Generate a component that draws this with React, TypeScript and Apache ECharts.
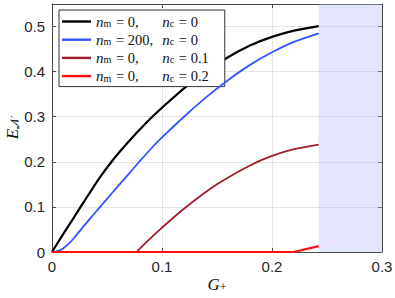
import React, { useEffect, useRef } from "react";
import * as echarts from "echarts";

// ---- data ----
const blackG = [0, 0.01, 0.02, 0.026, 0.035, 0.044, 0.055, 0.065, 0.0712, 0.08, 0.09, 0.1, 0.12, 0.14, 0.16, 0.18, 0.2, 0.22, 0.2424];
const blackE = [0, 0.039, 0.077, 0.1, 0.134, 0.167, 0.203, 0.232, 0.249, 0.272, 0.297, 0.32, 0.363, 0.4, 0.432, 0.458, 0.477, 0.491, 0.501];

const blueG = [0, 0.005, 0.01, 0.015, 0.02, 0.027, 0.035, 0.043, 0.05, 0.06, 0.07, 0.08, 0.09, 0.1, 0.12, 0.14, 0.16, 0.18, 0.2, 0.22, 0.2424];
const blueE = [0, 0.002, 0.008, 0.018, 0.031, 0.052, 0.075, 0.098, 0.118, 0.146, 0.174, 0.202, 0.229, 0.254, 0.3, 0.343, 0.381, 0.415, 0.443, 0.466, 0.485];

const darkRedG = [0, 0.0765, 0.08, 0.0894, 0.1, 0.12, 0.15, 0.18, 0.2, 0.22, 0.2424];
const darkRedE = [0, 0, 0.008, 0.03, 0.054, 0.096, 0.15, 0.192, 0.213, 0.228, 0.238];

const redG = [0, 0.1, 0.2197, 0.2424];
const redE = [0, 0, 0, 0.013];

const seriesNames = ["nm=0,nc=0", "nm=200,nc=0", "nm=0,nc=0.1", "nm=0,nc=0.2"];
const nmValues = ["0", "200", "0", "0"];
const ncValues = ["0", "0", "0.1", "0.2"];

const shadedFrom = 0.2424;
const shadedTo = 0.3;

const xTicks = { min: 0, max: 0.3, interval: 0.1 };
const yTicks = { min: 0, max: 0.55, interval: 0.1 };

const pairs = (g: number[], e: number[]) => g.map((v, i) => [v, e[i]]);

const serif = "'Liberation Serif', 'DejaVu Serif', serif";
const sans = "'Liberation Sans', Arial, sans-serif";

export default function App() {
  const ref = useRef<HTMLDivElement>(null);
  useEffect(() => {
    if (!ref.current) return;
    const chart = echarts.init(ref.current, undefined, { renderer: "svg" });
    const frame = "#4a4a4a";
    const gridColor = "#e3e3e3";
    const baseX = { type: "value", min: xTicks.min, max: xTicks.max, interval: xTicks.interval };
    const baseY = { type: "value", min: yTicks.min, max: yTicks.max, interval: yTicks.interval };
    const colors = ["#000000", "#3355ff", "#a11d2b", "#ff1010"];
    const widths = [2.2, 1.8, 1.8, 2.2];
    const smooths = [0.25, 0.25, 0.25, false];
    const datas = [
      pairs(blackG, blackE),
      pairs(blueG, blueE),
      pairs(darkRedG, darkRedE),
      pairs(redG, redE),
    ];
    const tickFmt = (v: number) => (v === 0 ? "0" : String(Math.round(v * 10) / 10));
    chart.setOption({
      animation: false,
      grid: { left: 52, right: 13, top: 4, bottom: 46, containLabel: false, outerBoundsMode: "none" },
      legend: {
        orient: "vertical",
        left: 59,
        top: 10,
        padding: [4, 16, 3, 3],
        itemGap: 3.2,
        itemWidth: 29,
        itemHeight: 2.4,
        backgroundColor: "#ffffff",
        borderColor: "#333333",
        borderWidth: 1,
        borderRadius: 0,
        data: seriesNames.map((n) => ({ name: n, icon: "rect" })),
        formatter: (name: string) => {
          const i = seriesNames.indexOf(name);
          return `{n|n}{s|m}{eq| = ${nmValues[i]},}{n|n}{s|c}{v| = ${ncValues[i]}}`;
        },
        textStyle: {
          color: "#111",
          fontFamily: serif,
          fontSize: 14,
          rich: {
            n: { fontFamily: serif, fontStyle: "italic", fontSize: 15, color: "#111", lineHeight: 14 },
            s: { fontFamily: serif, fontSize: 10, color: "#111", verticalAlign: "bottom", lineHeight: 5, padding: [0, 1, 0, 0] },
            eq: { fontFamily: serif, fontSize: 14.5, color: "#111", width: 50, lineHeight: 14 },
            v: { fontFamily: serif, fontSize: 14.5, color: "#111", lineHeight: 14 },
          },
        },
      },
      xAxis: [
        {
          ...baseX,
          position: "bottom",
          name: "{g|G}{s|+}",
          nameLocation: "middle",
          nameGap: 24,
          nameMoveOverlap: false,
          nameTextStyle: {
            rich: {
              g: { fontFamily: serif, fontStyle: "italic", fontSize: 17, color: "#111" },
              s: { fontFamily: serif, fontSize: 12, color: "#111", verticalAlign: "bottom", lineHeight: 8 },
            },
          },
          axisLine: { show: true, onZero: false, lineStyle: { color: frame, width: 1 } },
          axisTick: { show: true, inside: true, length: 4, lineStyle: { color: frame } },
          axisLabel: { color: "#262626", fontFamily: sans, fontSize: 15, margin: 7, formatter: tickFmt },
          splitLine: { show: true, lineStyle: { color: gridColor, width: 1 } },
        },
        {
          ...baseX,
          position: "top",
          axisLine: { show: true, onZero: false, lineStyle: { color: frame, width: 1 } },
          axisTick: { show: true, inside: true, length: 4, lineStyle: { color: frame } },
          axisLabel: { show: false },
          splitLine: { show: false },
        },
      ],
      yAxis: [
        {
          ...baseY,
          position: "left",
          name: "{e|E}{s|𝒩}",
          nameLocation: "middle",
          nameGap: 31,
          nameMoveOverlap: false,
          nameTextStyle: {
            rich: {
              e: { fontFamily: serif, fontStyle: "italic", fontSize: 17, color: "#111" },
              s: { fontFamily: serif, fontSize: 12, color: "#111", verticalAlign: "bottom", lineHeight: 8 },
            },
          },
          axisLine: { show: true, onZero: false, lineStyle: { color: frame, width: 1 } },
          axisTick: { show: true, inside: true, length: 4, lineStyle: { color: frame } },
          axisLabel: { color: "#262626", fontFamily: sans, fontSize: 15, margin: 7, showMaxLabel: false, formatter: tickFmt },
          splitLine: { show: true, lineStyle: { color: gridColor, width: 1 } },
        },
        {
          ...baseY,
          position: "right",
          axisLine: { show: true, onZero: false, lineStyle: { color: frame, width: 1 } },
          axisTick: { show: true, inside: true, length: 4, lineStyle: { color: frame } },
          axisLabel: { show: false },
          splitLine: { show: false },
        },
      ],
      series: seriesNames.map((name, i) => ({
        name,
        type: "line",
        xAxisIndex: 0,
        yAxisIndex: 0,
        data: datas[i],
        smooth: smooths[i],
        symbol: "none",
        showSymbol: false,
        color: colors[i],
        lineStyle: { color: colors[i], width: widths[i] },
        z: 3 + i,
        markArea:
          i === 0
            ? {
                silent: true,
                itemStyle: { color: "rgba(178,183,240,0.36)" },
                data: [[{ xAxis: shadedFrom }, { xAxis: shadedTo }]],
              }
            : undefined,
      })),
    });
    return () => chart.dispose();
  }, []);
  return <div ref={ref} style={{ width: 395, height: 298, position: "absolute", left: 0, top: 0 }} />;
}
